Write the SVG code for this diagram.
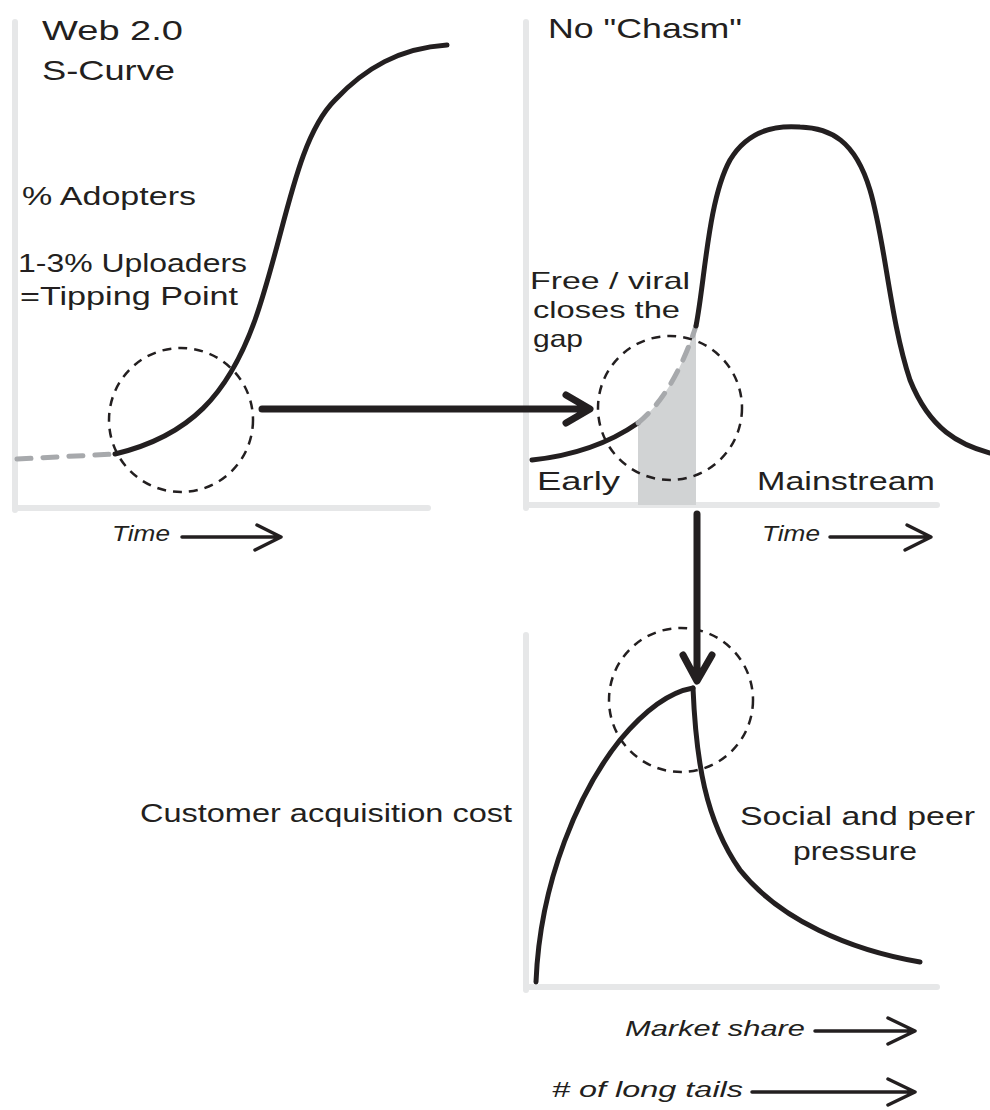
<svg xmlns="http://www.w3.org/2000/svg" width="990" height="1110" viewBox="0 0 990 1110">
<defs>
<style>
.axis{stroke:#e6e7e8;stroke-width:6;stroke-linecap:round;fill:none}
.curve{stroke:#231f20;stroke-width:5;fill:none;stroke-linecap:round}
.gdash{stroke:#a7a9ac;stroke-width:5;fill:none;stroke-dasharray:14 12;stroke-linecap:round}
.circ{stroke:#231f20;stroke-width:2.5;fill:none;stroke-dasharray:9 7}
.big{stroke:#231f20;stroke-width:7;fill:none;stroke-linecap:round;stroke-linejoin:round}
.small{stroke:#231f20;stroke-width:3.5;fill:none;stroke-linecap:round;stroke-linejoin:round}
text{font-family:"Liberation Sans",Arial,sans-serif;fill:#231f20}
.t1{font-size:28px}
.t2{font-size:26px}
.t4{font-size:24px}
.t3{font-size:22px;font-style:italic}
</style>
</defs>
<rect width="990" height="1110" fill="#ffffff"/>

<g id="panel-scurve">
<path class="axis" d="M15,22 L15,510 M15,508 L428,508"/>
<text class="t1" x="42" y="40" textLength="141" lengthAdjust="spacingAndGlyphs">Web 2.0</text>
<text class="t1" x="42" y="80" textLength="133" lengthAdjust="spacingAndGlyphs">S-Curve</text>
<text class="t2" x="22" y="205" textLength="174" lengthAdjust="spacingAndGlyphs">% Adopters</text>
<text class="t2" x="18" y="272" textLength="229" lengthAdjust="spacingAndGlyphs">1-3% Uploaders</text>
<text class="t2" x="20" y="305" textLength="218" lengthAdjust="spacingAndGlyphs">=Tipping Point</text>
<path class="gdash" d="M17,459 L115,454"/>
<path class="curve" d="M115,454 C190,436 228,395 255,320 C285,235 295,140 335,100 C365,68 400,48 447,45"/>
<circle class="circ" cx="181" cy="420" r="72"/>
<text class="t3" x="112" y="541" textLength="58" lengthAdjust="spacingAndGlyphs">Time</text>
</g>

<g id="panel-chasm">
<path class="axis" d="M526,22 L526,508 M526,505 L937,505"/>
<text class="t1" x="548" y="38" textLength="194" lengthAdjust="spacingAndGlyphs">No "Chasm"</text>
<path d="M638,423 C660,405 680,375 696,326 L696,505 L638,505 Z" fill="#d1d3d4"/>
<path class="curve" d="M532,460 C570,456 605,446 638,423"/>
<path class="gdash" d="M638,423 C660,405 680,375 696,326"/>
<path class="curve" d="M696,326 C705,280 708,200 730,160 C748,130 775,125 800,127 C830,128 855,140 870,190 C885,240 890,320 910,380 C930,430 960,445 990,453"/>
<circle class="circ" cx="670" cy="408" r="72"/>
<text class="t4" x="530" y="289" textLength="160" lengthAdjust="spacingAndGlyphs">Free / viral</text>
<text class="t4" x="533" y="318" textLength="147" lengthAdjust="spacingAndGlyphs">closes the</text>
<text class="t4" x="533" y="347" textLength="50" lengthAdjust="spacingAndGlyphs">gap</text>
<text class="t2" x="537" y="490" textLength="83" lengthAdjust="spacingAndGlyphs">Early</text>
<text class="t2" x="757" y="490" textLength="178" lengthAdjust="spacingAndGlyphs">Mainstream</text>
<text class="t3" x="762" y="541" textLength="58" lengthAdjust="spacingAndGlyphs">Time</text>
</g>

<g id="panel-cost">
<path class="axis" d="M526,635 L526,990 M526,987 L937,987"/>
<path class="curve" d="M536,982 C540,880 580,790 620,740 C645,710 670,692 693,688"/>
<path class="curve" d="M693,688 C696,760 705,820 740,870 C780,920 850,950 920,962"/>
<circle class="circ" cx="681" cy="700" r="72"/>
<text class="t2" x="140" y="822" textLength="372" lengthAdjust="spacingAndGlyphs">Customer acquisition cost</text>
<text class="t2" x="740" y="825" textLength="235" lengthAdjust="spacingAndGlyphs">Social and peer</text>
<text class="t2" x="793" y="860" textLength="124" lengthAdjust="spacingAndGlyphs">pressure</text>
<text class="t3" x="625" y="1036" textLength="180" lengthAdjust="spacingAndGlyphs">Market share</text>
<text class="t3" x="552" y="1097" textLength="191" lengthAdjust="spacingAndGlyphs"># of long tails</text>
</g>

<g id="connectors">
<path class="big" d="M262,409 L588,409 M566,395 L590,409 L566,423"/>
<path class="big" d="M697,514 L697,680 M683,655 L697,681 L712,655"/>
<path class="small" d="M182,537 L280,537 M257,525 L281,537 L255,550"/>
<path class="small" d="M830,537 L930,537 M907,525 L931,537 L905,550"/>
<path class="small" d="M815,1031 L915,1031 M888,1018 L915,1031 L888,1044"/>
<path class="small" d="M752,1092 L915,1092 M888,1079 L915,1092 L888,1105"/>
</g>
</svg>
